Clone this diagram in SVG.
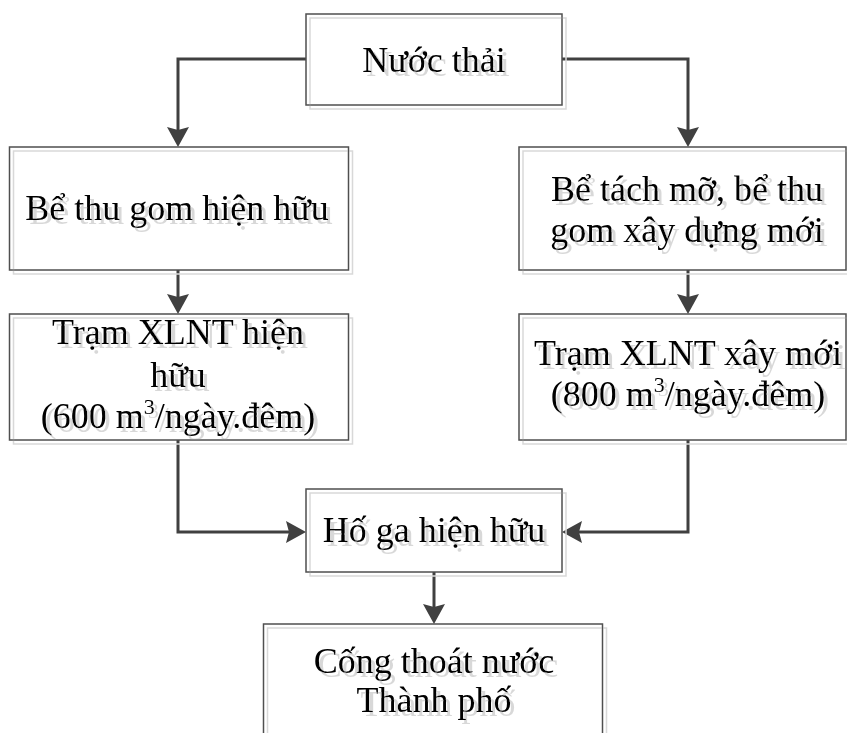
<svg xmlns="http://www.w3.org/2000/svg" width="847" height="733" viewBox="0 0 847 733">
<defs>
<style>
.box{fill:none;stroke:#505050;stroke-width:1.5}
.t{font-family:"Liberation Serif","Times New Roman",serif;font-size:36px;fill:#000;text-anchor:middle}
.sup{font-size:22px}
.conn{fill:none;stroke:#404040;stroke-width:3}
.node{filter:url(#ghost)}
</style>
<filter id="ghost" x="-5%" y="-5%" width="115%" height="120%">
<feOffset in="SourceAlpha" dx="4" dy="4" result="o"/>
<feFlood flood-color="#d8d8d8" result="c"/>
<feComposite in="c" in2="o" operator="in" result="s"/>
<feMerge><feMergeNode in="s"/><feMergeNode in="SourceGraphic"/></feMerge>
</filter>
<marker id="arr" markerUnits="userSpaceOnUse" viewBox="0 0 20 22" markerWidth="20" markerHeight="22" refX="10" refY="11" orient="auto">
<path d="M0,0 L20,11 L0,22 L3,11 Z" fill="#404040"/>
</marker>
</defs>
<rect width="847" height="733" fill="#fff"/>

<g id="connectors">
<path class="conn" d="M306,59 H178 V137" marker-end="url(#arr)"/>
<path class="conn" d="M562,59 H688 V137" marker-end="url(#arr)"/>
<path class="conn" d="M178,270 V304" marker-end="url(#arr)"/>
<path class="conn" d="M688,270 V304" marker-end="url(#arr)"/>
<path class="conn" d="M178,440 V532 H296" marker-end="url(#arr)"/>
<path class="conn" d="M688,440 V532 H572" marker-end="url(#arr)"/>
<path class="conn" d="M434,572 V614" marker-end="url(#arr)"/>
</g>

<g id="nuoc-thai" class="node">
<rect class="box" x="306" y="14" width="256" height="91"/>
<text class="t" x="434" y="72">Nước thải</text>
</g>

<g id="be-thu-gom" class="node">
<rect class="box" x="9.5" y="147" width="339" height="123"/>
<text class="t" x="177" y="220">Bể thu gom hiện hữu</text>
</g>

<g id="be-tach-mo" class="node">
<rect class="box" x="519" y="147" width="327" height="123"/>
<text class="t" x="687" y="201">Bể tách mỡ, bể thu</text>
<text class="t" x="687" y="242">gom xây dựng mới</text>
</g>

<g id="tram-hien-huu" class="node">
<rect class="box" x="9.5" y="314" width="339" height="126"/>
<text class="t" x="178" y="344">Trạm XLNT hiện</text>
<text class="t" x="178" y="387">hữu</text>
<text class="t" x="178" y="428">(600 m<tspan class="sup" dy="-14">3</tspan><tspan dy="14">/ngày.đêm)</tspan></text>
</g>

<g id="tram-xay-moi" class="node">
<rect class="box" x="519" y="314" width="327" height="126"/>
<text class="t" x="688" y="365">Trạm XLNT xây mới</text>
<text class="t" x="688" y="406">(800 m<tspan class="sup" dy="-14">3</tspan><tspan dy="14">/ngày.đêm)</tspan></text>
</g>

<g id="ho-ga" class="node">
<rect class="box" x="306" y="489" width="256" height="83"/>
<text class="t" x="434" y="542">Hố ga hiện hữu</text>
</g>

<g id="cong-thoat-nuoc" class="node">
<rect class="box" x="263.5" y="624" width="339" height="120"/>
<text class="t" x="434" y="673">Cống thoát nước</text>
<text class="t" x="434" y="712">Thành phố</text>
</g>
</svg>
